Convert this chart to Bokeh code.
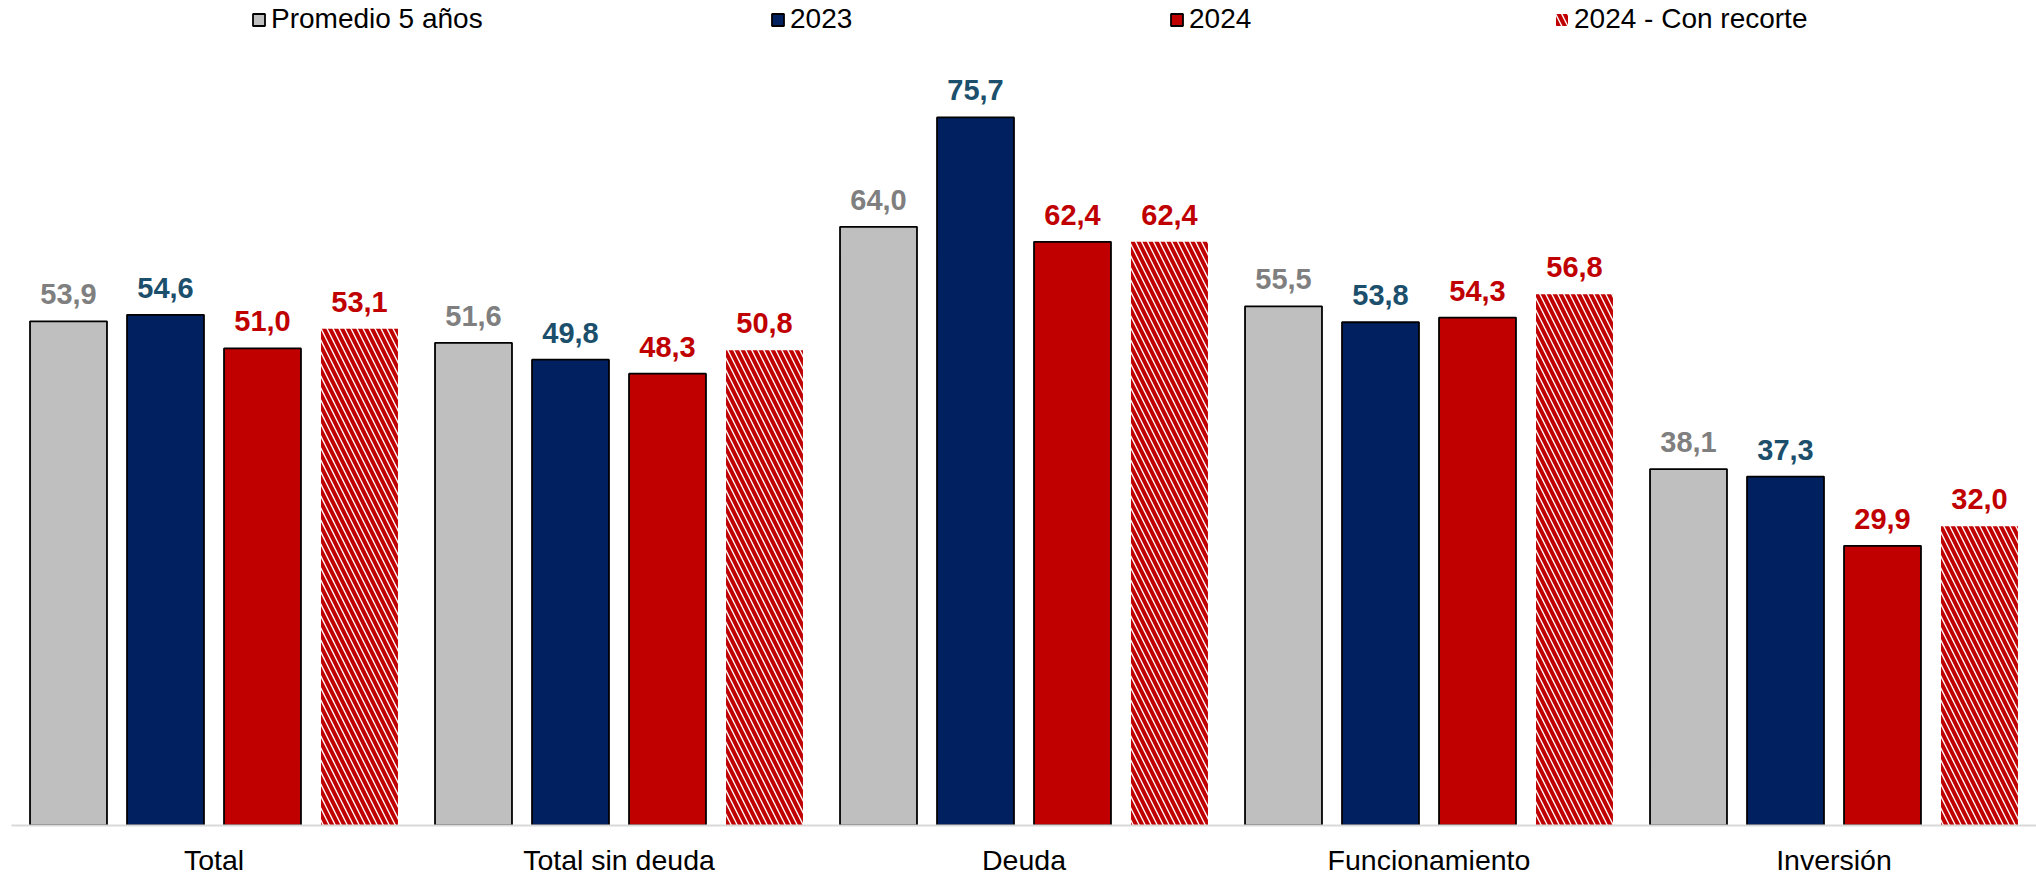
from bokeh.plotting import figure
from bokeh.models import ColumnDataSource, FactorRange, Range1d, Legend, LegendItem
from bokeh.transform import dodge
from bokeh.core.properties import value
from bokeh.embed import file_html
from bokeh.resources import INLINE

# Execution as a share of the annual budget (%)
categories = ["Total", "Total sin deuda", "Deuda", "Funcionamiento", "Inversión"]
promedio_5 = [53.9, 51.6, 64.0, 55.5, 38.1]
y2023 = [54.6, 49.8, 75.7, 53.8, 37.3]
y2024 = [51.0, 48.3, 62.4, 54.3, 29.9]
y2024_recorte = [53.1, 50.8, 62.4, 56.8, 32.0]

series_names = ["Promedio 5 años", "2023", "2024", "2024 - Con recorte"]

FONT = "Liberation Sans"
GRAY, NAVY, RED = "#BFBFBF", "#002060", "#C00000"
LABEL_COLORS = ["#7F7F7F", "#1B4F6B", RED, RED]


def fmt(v):
    return f"{v:.1f}".replace(".", ",")


src = ColumnDataSource(dict(
    cat=categories,
    s0=promedio_5, s1=y2023, s2=y2024, s3=y2024_recorte,
    l0=[fmt(v) for v in promedio_5],
    l1=[fmt(v) for v in y2023],
    l2=[fmt(v) for v in y2024],
    l3=[fmt(v) for v in y2024_recorte],
))

p = figure(
    x_range=FactorRange(*categories, range_padding=0),
    y_range=Range1d(0, 88.2),
    frame_width=2025, frame_height=825,
    min_border_left=11, min_border_right=0, min_border_top=0, min_border_bottom=0,
    output_backend="svg", toolbar_location=None,
    background_fill_color="white", border_fill_color="white",
)
p.outline_line_color = None
p.xgrid.visible = False
p.ygrid.visible = False
p.yaxis.visible = False

step = 0.2395
bar_w = 0.19
offsets = [-1.5 * step, -0.5 * step, 0.5 * step, 1.5 * step]

renderers = []
styles = [
    dict(fill_color=GRAY, line_color="black", line_width=1.8),
    dict(fill_color=NAVY, line_color="black", line_width=1.8),
    dict(fill_color=RED, line_color="black", line_width=1.8),
    dict(fill_color="white", line_color=None, hatch_pattern="\\",
         hatch_color=RED, hatch_scale=12, hatch_weight=4),
]
for i, off in enumerate(offsets):
    x = dodge("cat", off, range=p.x_range)
    r = p.vbar(x=x, top=f"s{i}", width=bar_w, source=src, **styles[i])
    renderers.append(r)
    p.text(x=x, y=f"s{i}", text=f"l{i}", source=src,
           text_font=value(FONT), text_font_style="bold", text_font_size="29px",
           text_color=LABEL_COLORS[i], text_align="center",
           text_baseline="alphabetic", y_offset=-27)

# Category axis
ax = p.xaxis[0]
ax.axis_line_color = "#D9D9D9"
ax.axis_line_width = 2
ax.major_tick_line_color = None
ax.minor_tick_line_color = None
ax.major_tick_out = 0
ax.major_label_standoff = 18
ax.major_label_text_font = FONT
ax.major_label_text_font_size = "28.5px"
ax.major_label_text_color = "black"

# One legend entry per series, spread across the top
legend_x = [240, 759, 1158, 1543]
for name, r, lx in zip(series_names, renderers, legend_x):
    lg = Legend(
        items=[LegendItem(label=name, renderers=[r])],
        location=(lx, 790), orientation="horizontal",
        margin=0, padding=0, spacing=0,
        glyph_width=15, glyph_height=15, label_standoff=5,
        label_text_font=FONT, label_text_font_size="28px", label_text_color="black",
        border_line_color=None, background_fill_alpha=0,
    )
    p.add_layout(lg, "center")

open("out.html", "w").write(file_html(p, INLINE))
